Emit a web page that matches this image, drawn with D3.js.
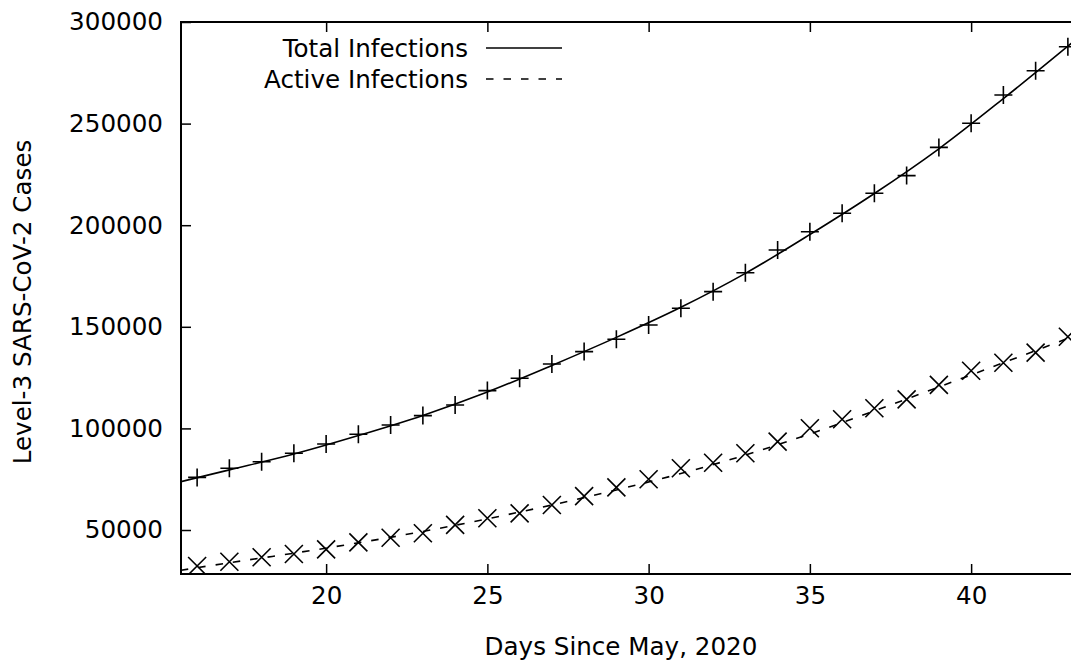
<!DOCTYPE html>
<html>
<head>
<meta charset="utf-8">
<script src="https://cdn.jsdelivr.net/npm/d3@7"></script>
<style>
  html, body { margin: 0; padding: 0; background: #fff; }
  svg { display: block; }
  text { font-family: "DejaVu Sans", sans-serif; fill: #000; }
</style>
</head>
<body>
<svg id="chart" width="1071" height="662"></svg>
<script>
// ---- data ----
const days = [16,17,18,19,20,21,22,23,24,25,26,27,28,29,30,31,32,33,34,35,36,37,38,39,40,41,42,43];
const totalInfections = [75900,80400,83600,87800,92300,97100,101700,106300,111500,118600,124700,131700,137800,143900,150900,159100,167300,176600,187800,196800,205900,215700,224400,238300,250200,264100,276000,287800];
const activeInfections = [32300,34400,36600,38200,40500,43900,46200,48400,52500,55800,58200,62300,66700,71000,75000,80400,83100,87800,93500,100100,104500,109900,114300,121400,128400,132300,137300,145100];

// smooth curves drawn through the plot
const curveDays = [15.5,17,19,21,23,25,27,29,31,33,35,37,39,41,43,44.5];
const totalCurve = [73800,79600,87400,96500,106400,117900,131000,144800,159600,176300,195400,215600,237600,262300,288100,308000];
const activeCurve = [30200,33900,38600,43700,49300,55500,62300,69700,77800,86900,97300,108600,120400,132300,144300,153500];

const xTicks = [20,25,30,35,40];
const yTicks = [50000,100000,150000,200000,250000,300000];
const xDomain = [15.5, 44.5];
const yDomain = [28350, 300000];

const seriesNames = ["Total Infections", "Active Infections"];
const xLabel = "Days Since May, 2020";
const yLabel = "Level-3 SARS-CoV-2 Cases";

(function () {
// ---- layout ----
const svg = d3.select("#chart");
const pLeft = 181, pTop = 22, pBottom = 574;
const unit = 32.25;
const pRight = pLeft + (xDomain[1] - xDomain[0]) * unit;

const x = d3.scaleLinear().domain(xDomain).range([pLeft, pRight]);
const y = d3.scaleLinear().domain(yDomain).range([pBottom, pTop]);

const fontSize = 24.6;
const tickLen = 10;

svg.append("defs").append("clipPath").attr("id", "plotclip")
  .append("rect").attr("x", pLeft).attr("y", pTop).attr("width", pRight - pLeft).attr("height", pBottom - pTop);

// axes with inward ticks
const axisG = svg.append("g");
const xAxisB = d3.axisBottom(x).tickValues(xTicks).tickSizeInner(-tickLen).tickSizeOuter(0).tickPadding(13);
const xAxisT = d3.axisTop(x).tickValues(xTicks).tickSizeInner(-tickLen).tickSizeOuter(0).tickFormat("");
const yAxisL = d3.axisLeft(y).tickValues(yTicks).tickSizeInner(-tickLen).tickSizeOuter(0).tickPadding(18).tickFormat(d3.format("d"));

const gB = axisG.append("g").attr("transform", `translate(0,${pBottom})`).call(xAxisB);
const gT = axisG.append("g").attr("transform", `translate(0,${pTop})`).call(xAxisT);
const gL = axisG.append("g").attr("transform", `translate(${pLeft},0)`).call(yAxisL);
[gB, gT, gL].forEach(g => {
  g.select(".domain").remove();
  g.selectAll(".tick line").attr("stroke", "#000").attr("stroke-width", 1.5);
  g.selectAll(".tick text").attr("font-size", fontSize).attr("font-family", "DejaVu Sans, sans-serif").attr("fill", "#000");
});
gB.selectAll(".tick text").attr("dy", "0.71em");

// border
svg.append("rect")
  .attr("x", pLeft).attr("y", pTop)
  .attr("width", pRight - pLeft).attr("height", pBottom - pTop)
  .attr("fill", "none").attr("stroke", "#000").attr("stroke-width", 2);

// axis labels
svg.append("text")
  .attr("x", 621).attr("y", 655)
  .attr("text-anchor", "middle").attr("font-size", fontSize)
  .text(xLabel);
svg.append("text")
  .attr("transform", `translate(31,${(pTop + pBottom) / 2 + 4}) rotate(-90)`)
  .attr("text-anchor", "middle").attr("font-size", fontSize)
  .text(yLabel);

const plot = svg.append("g").attr("clip-path", "url(#plotclip)");
const line = d3.line().x(d => x(d[0])).y(d => y(d[1])).curve(d3.curveCatmullRom.alpha(0.5));

// total curve (solid)
plot.append("path")
  .datum(curveDays.map((d, i) => [d, totalCurve[i]]))
  .attr("d", line).attr("fill", "none").attr("stroke", "#000").attr("stroke-width", 1.6);

// active curve (dashed)
plot.append("path")
  .datum(curveDays.map((d, i) => [d, activeCurve[i]]))
  .attr("d", line).attr("fill", "none").attr("stroke", "#000").attr("stroke-width", 1.6)
  .attr("stroke-dasharray", "7.5,10");

const h = 9;
const plusPath = `M${-h},0H${h}M0,${-h}V${h}`;
const crossPath = `M${-h},${-h}L${h},${h}M${-h},${h}L${h},${-h}`;

plot.selectAll(".plus").data(days.map((d, i) => [d, totalInfections[i]]))
  .enter().append("path").attr("class", "plus")
  .attr("transform", d => `translate(${x(d[0])},${y(d[1])})`)
  .attr("d", plusPath).attr("stroke", "#000").attr("stroke-width", 1.6).attr("fill", "none");

plot.selectAll(".cross").data(days.map((d, i) => [d, activeInfections[i]]))
  .enter().append("path").attr("class", "cross")
  .attr("transform", d => `translate(${x(d[0])},${y(d[1])})`)
  .attr("d", crossPath).attr("stroke", "#000").attr("stroke-width", 1.6).attr("fill", "none");

// legend
const legend = svg.append("g");
const legTextX = 468, legLineX0 = 486, legLineX1 = 562;
const legRows = [48, 79];
seriesNames.forEach((name, i) => {
  legend.append("text")
    .attr("x", legTextX).attr("y", legRows[i])
    .attr("dy", "0.35em")
    .attr("text-anchor", "end").attr("font-size", fontSize)
    .text(name);
  legend.append("line")
    .attr("x1", legLineX0).attr("x2", legLineX1)
    .attr("y1", legRows[i]).attr("y2", legRows[i])
    .attr("stroke", "#000").attr("stroke-width", 1.6)
    .attr("stroke-dasharray", i === 1 ? "7.5,10" : null);
});
})();
</script>
</body>
</html>
